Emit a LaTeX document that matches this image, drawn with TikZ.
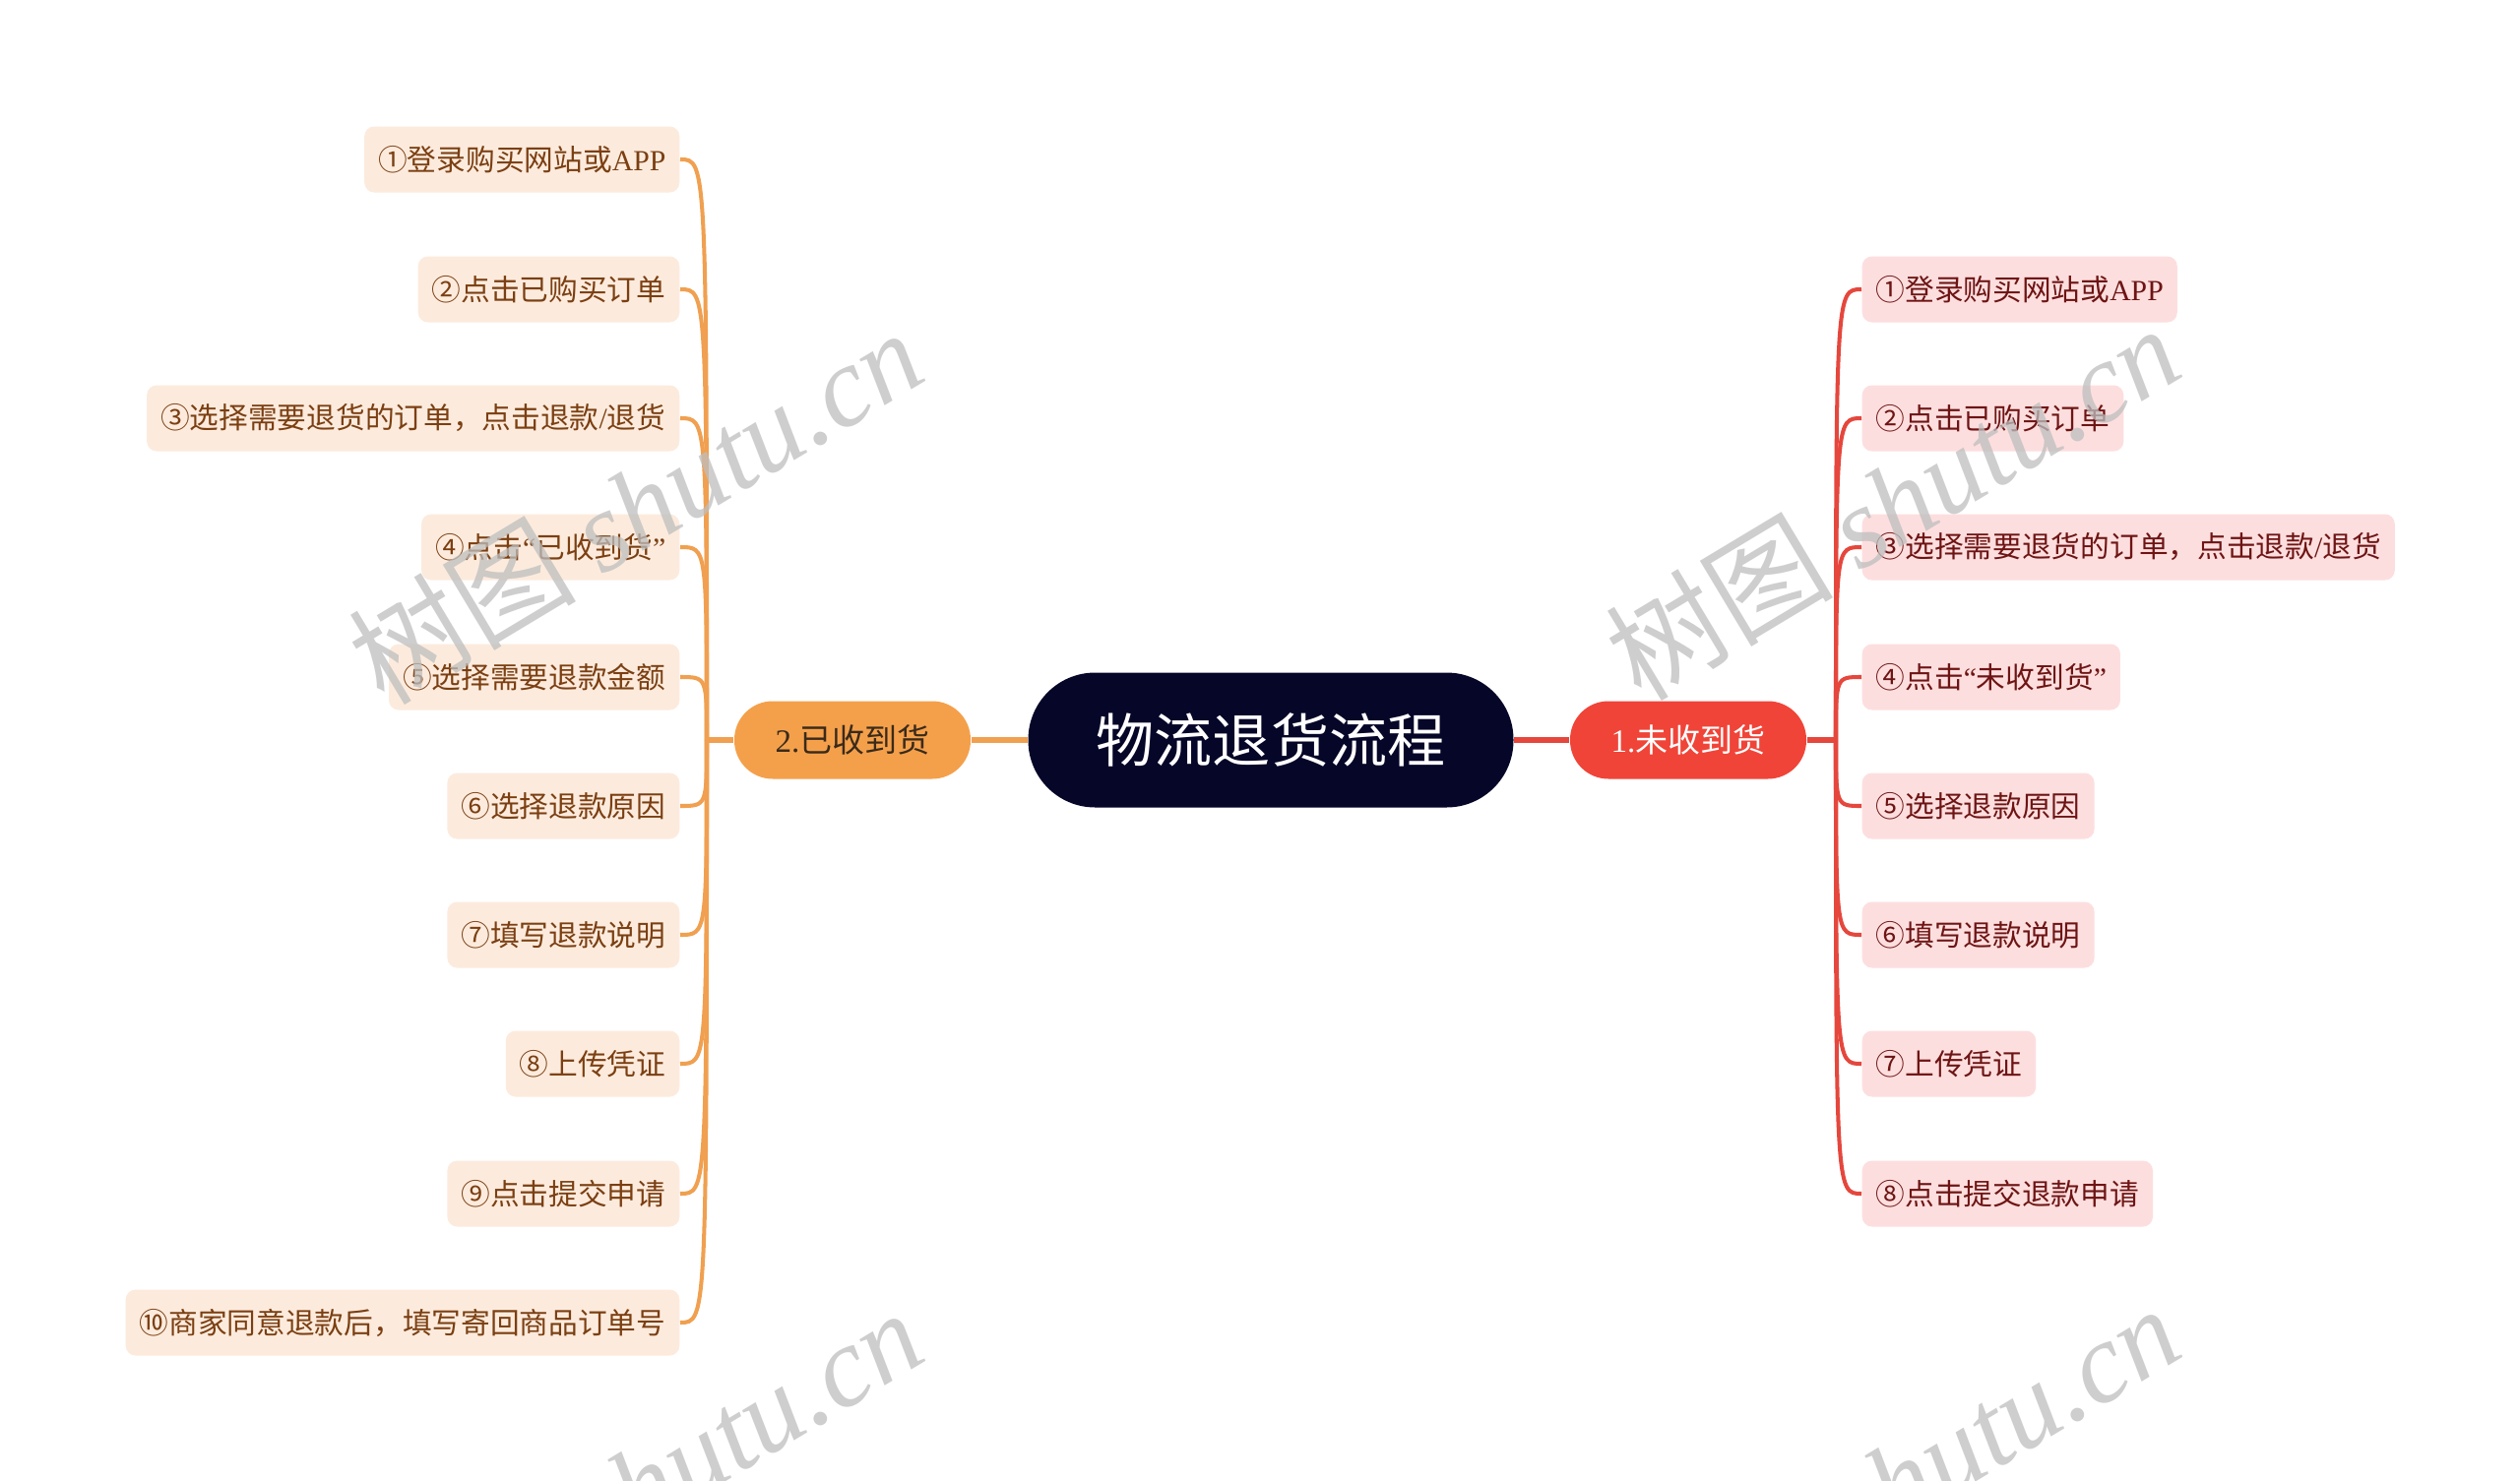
\documentclass[tikz,border=0pt]{standalone}
\usepackage{fontspec}
\setmainfont{Noto Sans CJK SC}
\newfontfamily\latf{Liberation Serif}
\newcommand\lat[1]{{\latf #1}}
\definecolor{cdark}{HTML}{050628}
\definecolor{cred}{HTML}{F04438}
\definecolor{credline}{HTML}{E5473D}
\definecolor{corange}{HTML}{F4A04B}
\definecolor{corangeline}{HTML}{F0A050}
\definecolor{lfill}{HTML}{FCEBDD}
\definecolor{ltext}{HTML}{7B3F12}
\definecolor{rfill}{HTML}{FDDEDE}
\definecolor{rtext}{HTML}{6E1414}
\definecolor{ldark}{HTML}{3A2A1A}
\definecolor{wmgray}{HTML}{BEBEBE}
\tikzset{
  centerbox/.style={fill=cdark, text=white, rounded corners=6.8mm, minimum width=49.3mm, minimum height=13.7mm, inner sep=0pt, font=\fontsize{16.8}{20}\selectfont},
  mainR/.style={fill=cred, text=white, rounded corners=3.9mm, minimum width=24mm, minimum height=7.9mm, inner sep=0pt, font=\fontsize{9.4}{11}\selectfont},
  mainL/.style={fill=corange, text=ldark, rounded corners=3.9mm, minimum width=24mm, minimum height=7.9mm, inner sep=0pt, font=\fontsize{9.4}{11}\selectfont},
  leafR/.style={fill=rfill, text=rtext, rounded corners=1mm, minimum height=6.7mm, inner xsep=1.4mm, inner ysep=0pt, anchor=west, font=\fontsize{8.45}{10}\selectfont},
  leafL/.style={fill=lfill, text=ltext, rounded corners=1mm, minimum height=6.7mm, inner xsep=1.4mm, inner ysep=0pt, anchor=east, font=\fontsize{8.45}{10}\selectfont},
  rmain/.style={draw=credline, line width=1.45pt},
  lmain/.style={draw=corangeline, line width=1.45pt},
  rbranch/.style={draw=credline, line width=1.15pt},
  lbranch/.style={draw=corangeline, line width=1.15pt},
  wm/.style={text=wmgray, text opacity=0.75, rotate=31, font=\fontsize{33}{36}\selectfont}
}
\begin{document}
\begin{tikzpicture}[x=0.1mm,y=-0.1mm]
\useasboundingbox (0,0) rectangle (2560,1505);
\fill[white] (0,0) rectangle (2560,1505);

\coordinate (rj) at (1865,752);
\coordinate (lj) at (718,752);

\node[centerbox] (c) at (1291,752) {物流退货流程};
\node[mainR] (r) at (1715,752) {\lat{1.}未收到货};
\node[mainL] (l) at (866,752) {\lat{2.}已收到货};

% right leaves
\node[leafR] (r1) at (1891,294) {①登录购买网站或\lat{APP}};
\node[leafR] (r2) at (1891,425) {②点击已购买订单};
\node[leafR] (r3) at (1891,556) {③选择需要退货的订单，点击退款\lat{/}退货};
\node[leafR] (r4) at (1891,688) {④点击\lat{“}未收到货\lat{”}};
\node[leafR] (r5) at (1891,819) {⑤选择退款原因};
\node[leafR] (r6) at (1891,950) {⑥填写退款说明};
\node[leafR] (r7) at (1891,1081) {⑦上传凭证};
\node[leafR] (r8) at (1891,1213) {⑧点击提交退款申请};

% left leaves
\node[leafL] (l1) at (691,162) {①登录购买网站或\lat{APP}};
\node[leafL] (l2) at (691,294) {②点击已购买订单};
\node[leafL] (l3) at (691,425) {③选择需要退货的订单，点击退款\lat{/}退货};
\node[leafL] (l4) at (691,556) {④点击\lat{“}已收到货\lat{”}};
\node[leafL] (l5) at (691,688) {⑤选择需要退款金额};
\node[leafL] (l6) at (691,819) {⑥选择退款原因};
\node[leafL] (l7) at (691,950) {⑦填写退款说明};
\node[leafL] (l8) at (691,1081) {⑧上传凭证};
\node[leafL] (l9) at (691,1213) {⑨点击提交申请};
\node[leafL] (l10) at (691,1344) {⑩商家同意退款后，填写寄回商品订单号};

\draw[rmain] (c) -- (r);
\draw[lmain] (c) -- (l);
\draw[rmain] (r) -- (rj);
\draw[lmain] (l) -- (lj);
\foreach \n in {1,...,8}{
  \draw[rbranch] (rj) .. controls (rj |- r\n.west) and (rj |- r\n.west) .. (r\n.west);
}
\foreach \n in {1,...,10}{
  \draw[lbranch] (lj) .. controls (lj |- l\n.east) and (lj |- l\n.east) .. (l\n.east);
}

% watermarks
\begin{scope}
\clip (0,0) rectangle (2560,1505);
\node[wm] (w1) at (645,514) {树图 {\latf\itshape shutu.cn}};
\node[wm] (w2) at (1922,510) {树图 {\latf\itshape shutu.cn}};
\node[wm] (w3) at (645,1510) {树图 {\latf\itshape shutu.cn}};
\node[wm] (w4) at (1922,1506) {树图 {\latf\itshape shutu.cn}};
\end{scope}
\end{tikzpicture}
\end{document}
